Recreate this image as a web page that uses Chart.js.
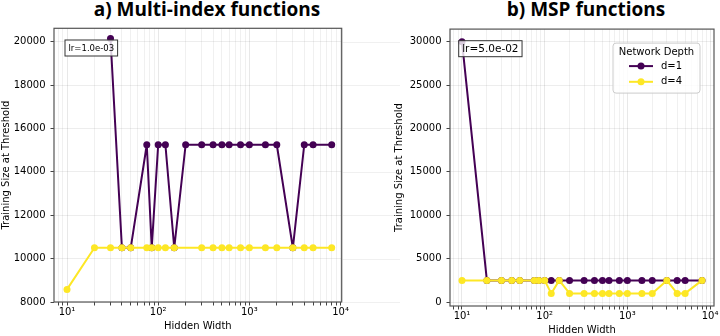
<!DOCTYPE html>
<html>
<head>
<meta charset="utf-8">
<script src="https://cdn.jsdelivr.net/npm/chart.js@4.4.1/dist/chart.umd.min.js"></script>
<style>
	body { margin: 0; width: 720px; height: 336px; overflow: hidden; background: #fff; position: relative; }
	canvas { position: absolute; top: 0; }
	#chartA { left: 0; }
	#chartB { left: 360px; }
	.title { position: absolute; top: -2px; width: 300px; text-align: center; font: bold 19px "Open Sans", sans-serif; line-height: 22px; color: #000; }
</style>
</head>
<body>
<div class="title" style="left:57px">a) Multi-index functions</div>
<div class="title" style="left:436px">b) MSP functions</div>
<canvas id="chartA" width="400" height="336"></canvas>
<canvas id="chartB" width="370" height="336"></canvas>
<script>
const widths = [10, 20, 30, 40, 50, 75, 85, 100, 120, 150, 200, 300, 400, 500, 600, 800, 1000, 1500, 2000, 3000, 4000, 5000, 8000];
const multiD1 = [null, null, 20150, 10500, 10500, 15250, 10500, 15250, 15250, 10500, 15250, 15250, 15250, 15250, 15250, 15250, 15250, 15250, 15250, 10500, 15250, 15250, 15250];
const multiD4 = [8580, 10500, 10500, 10500, 10500, 10500, 10500, 10500, 10500, 10500, null, 10500, 10500, 10500, 10500, 10500, 10500, 10500, 10500, 10500, 10500, 10500, 10500];
const mspD1 = [30000, 2500, 2500, 2500, 2500, 2500, 2500, 2500, 2500, 2500, 2500, 2500, 2500, 2500, 2500, 2500, 2500, 2500, 2500, 2500, 2500, 2500, 2500];
const mspD4 = [2500, 2500, 2500, 2500, 2500, 2500, 2500, 2500, 1000, 2500, 1000, 1000, 1000, 1000, 1000, 1000, 1000, 1000, 1000, 2500, 1000, 1000, 2500];

const seriesNames = ["d=1", "d=4"];
const seriesColors = ["#440154", "#fde725"];
const legendTitle = "Network Depth";
const xMajorTicks = [10, 100, 1000, 10000];
const xMajorLabels = ["10¹", "10²", "10³", "10⁴"];
const multiYTicks = [8000, 10000, 12000, 14000, 16000, 18000, 20000];
const mspYTicks = [0, 5000, 10000, 15000, 20000, 25000, 30000];

// log grid: 1..9 in every decade
const xTickValues = [];
for (const decade of [1, 10, 100, 1000]) {
	for (let m = 1; m <= 9; m++) xTickValues.push(decade * m);
}
xTickValues.push(10000);

Chart.defaults.font.family = '"DejaVu Sans", sans-serif';
Chart.defaults.font.size = 10;
Chart.defaults.color = "#000";

function toPoints(values) {
	const pts = [];
	for (let i = 0; i < widths.length; i++) {
		if (values[i] !== null) pts.push({ x: widths[i], y: values[i] });
	}
	return pts;
}

const panelPlugin = {
	id: "panel",
	afterDatasetsDraw(chart, args, opts) {
		const ctx = chart.ctx;
		const area = chart.chartArea;
		ctx.save();
		// spines
		ctx.strokeStyle = "#555";
		ctx.lineWidth = 1.2;
		ctx.strokeRect(area.left, area.top, area.right - area.left, area.bottom - area.top);
		// lr box
		ctx.font = opts.lrSize + 'px "DejaVu Sans"';
		const tw = ctx.measureText(opts.lrText).width;
		const bx = area.left + opts.lrX;
		const by = area.top + opts.lrY;
		const bh = 16;
		ctx.fillStyle = "rgba(255,255,255,0.8)";
		ctx.fillRect(bx, by, tw + 7, bh);
		ctx.strokeStyle = "#333";
		ctx.lineWidth = 1;
		ctx.strokeRect(bx, by, tw + 7, bh);
		ctx.fillStyle = "#000";
		ctx.textBaseline = "middle";
		ctx.textAlign = "left";
		ctx.fillText(opts.lrText, bx + 3.5, by + bh / 2 + 0.5);
		if (opts.legend) drawLegend(chart, ctx);
		ctx.restore();
	},
	afterDraw(chart, args, opts) {
		if (!opts.gapTo) return;
		const ctx = chart.ctx;
		const area = chart.chartArea;
		const y = chart.scales.y;
		ctx.save();
		ctx.strokeStyle = "rgba(0,0,0,0.06)";
		ctx.lineWidth = 1;
		y.ticks.forEach(t => {
			const py = Math.round(y.getPixelForValue(t.value)) + 0.5;
			ctx.beginPath();
			ctx.moveTo(area.right + 1, py);
			ctx.lineTo(opts.gapTo, py);
			ctx.stroke();
		});
		ctx.restore();
	}
};

function drawLegend(chart, ctx) {
	const area = chart.chartArea;
	const w = 87, h = 50;
	const x = area.right - 14 - w;
	const y = area.top + 14;
	ctx.fillStyle = "rgba(255,255,255,0.8)";
	ctx.strokeStyle = "#cccccc";
	ctx.lineWidth = 1;
	ctx.beginPath();
	ctx.roundRect(x, y, w, h, 3);
	ctx.fill();
	ctx.stroke();
	ctx.font = '10px "DejaVu Sans"';
	ctx.fillStyle = "#000";
	ctx.textAlign = "center";
	ctx.textBaseline = "middle";
	ctx.fillText(legendTitle, x + w / 2, y + 9.5);
	chart.data.datasets.forEach((ds, i) => {
		const ly = y + 23 + i * 15.7;
		ctx.strokeStyle = ds.borderColor;
		ctx.lineWidth = 2;
		ctx.beginPath();
		ctx.moveTo(x + 16, ly);
		ctx.lineTo(x + 40, ly);
		ctx.stroke();
		ctx.fillStyle = ds.borderColor;
		ctx.beginPath();
		ctx.arc(x + 28, ly, 3.5, 0, Math.PI * 2);
		ctx.fill();
		ctx.fillStyle = "#000";
		ctx.textAlign = "left";
		ctx.fillText(ds.label, x + 48, ly);
	});
}

function makeChart(id, cfg) {
	return new Chart(document.getElementById(id), {
		type: "line",
		data: {
			datasets: [
				{ label: seriesNames[0], data: toPoints(cfg.d1), borderColor: seriesColors[0], backgroundColor: seriesColors[0], order: 1 },
				{ label: seriesNames[1], data: toPoints(cfg.d4), borderColor: seriesColors[1], backgroundColor: seriesColors[1], order: 0 }
			]
		},
		options: {
			responsive: false,
			animation: false,
			layout: { padding: cfg.padding },
			elements: {
				line: { borderWidth: 2, tension: 0, borderJoinStyle: "round", borderCapStyle: "round" },
				point: { radius: 3.5, hoverRadius: 3.5, borderWidth: 0 }
			},
			plugins: {
				legend: { display: false },
				tooltip: { enabled: false },
				panel: cfg.panel
			},
			scales: {
				x: {
					type: "logarithmic",
					min: cfg.xMin,
					max: cfg.xMax,
					afterBuildTicks: s => {
						s.ticks = xTickValues.filter(v => v >= s.min && v <= s.max).map(v => ({ value: v }));
					},
					afterFit: s => { s.height = 30; },
					ticks: {
						autoSkip: false,
						maxRotation: 0,
						padding: 1,
						callback: v => {
							const k = xMajorTicks.indexOf(v);
							return k >= 0 ? xMajorLabels[k] : "";
						}
					},
					grid: {
						color: c => xMajorTicks.includes(c.tick && c.tick.value) ? "rgba(0,0,0,0.09)" : "rgba(0,0,0,0.06)",
						tickColor: "#444",
						tickLength: 3.5
					},
					border: { display: false },
					title: { display: true, text: "Hidden Width", padding: 0 }
				},
				y: {
					type: "linear",
					min: cfg.yMin,
					max: cfg.yMax,
					afterBuildTicks: s => {
						s.ticks = cfg.yTicks.map(v => ({ value: v }));
					},
					afterFit: s => { s.width = cfg.yWidth; },
					ticks: { padding: 5, callback: v => String(v) },
					grid: { color: "rgba(0,0,0,0.07)", tickColor: "#444", tickLength: 3.5 },
					border: { display: false },
					title: { display: true, text: "Training Size at Threshold", padding: 0 }
				}
			}
		},
		plugins: [panelPlugin]
	});
}

makeChart("chartA", {
	d1: multiD1, d4: multiD4,
	padding: { left: 0, right: 58.3, top: 28.3, bottom: 4 },
	xMin: 7.2, xMax: 10300,
	yMin: 8000, yMax: 20620, yTicks: multiYTicks, yWidth: 54,
	panel: { lrText: "lr=1.0e-03", lrSize: 8.5, lrX: 11, lrY: 11.7, legend: false, gapTo: 400 }
});

makeChart("chartB", {
	d1: mspD1, d4: mspD4,
	padding: { left: 33, right: 16, top: 29.1, bottom: 0 },
	xMin: 7.16, xMax: 11170,
	yMin: -450, yMax: 31450, yTicks: mspYTicks, yWidth: 57,
	panel: { lrText: "lr=5.0e-02", lrSize: 10.5, lrX: 8.7, lrY: 11.6, legend: true, gapTo: 0 }
});
</script>
</body>
</html>
